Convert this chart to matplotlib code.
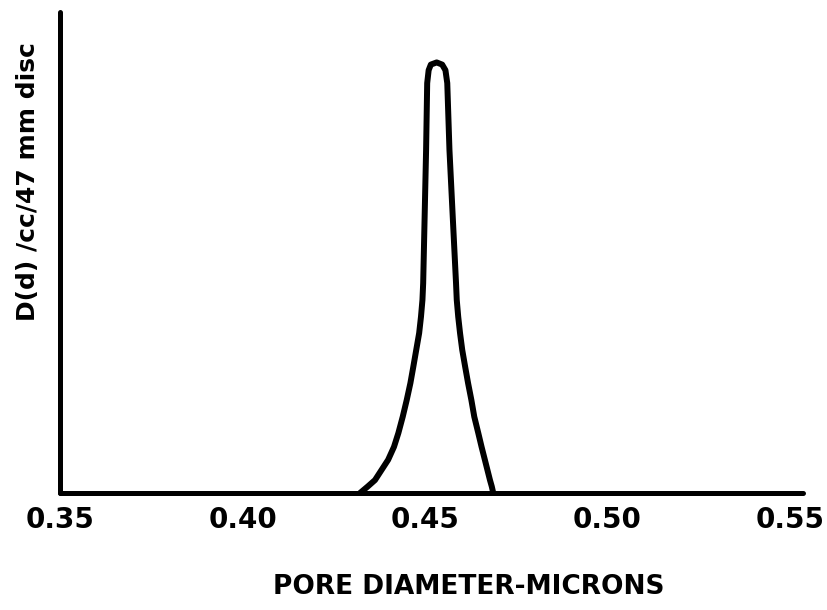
import matplotlib
matplotlib.use("Agg")
import matplotlib.pyplot as plt
import numpy as np

# pore diameter (microns) vs relative D(d)
diameter = [0.4322, 0.4343, 0.4363, 0.4399, 0.4415, 0.4427, 0.4439, 0.4450,
            0.4460, 0.4468, 0.4476, 0.4484, 0.4489, 0.4493, 0.4495, 0.4499,
            0.4503, 0.4506, 0.4510, 0.4516, 0.4532, 0.4547, 0.4556, 0.4561,
            0.4567, 0.4576, 0.4585, 0.4587, 0.4591, 0.4596, 0.4602, 0.4610,
            0.4618, 0.4627, 0.4635, 0.4646, 0.4655, 0.4664, 0.4678, 0.4683,
            0.4687]
density = [0.0, 0.015, 0.030, 0.077, 0.107, 0.139, 0.177, 0.216,
           0.255, 0.293, 0.332, 0.371, 0.409, 0.448, 0.487, 0.641,
           0.796, 0.951, 0.981, 0.994, 0.999, 0.994, 0.981, 0.951,
           0.796, 0.641, 0.487, 0.448, 0.409, 0.371, 0.332, 0.293,
           0.255, 0.216, 0.177, 0.139, 0.107, 0.077, 0.030, 0.015,
           0.0]

xticks = [0.35, 0.40, 0.45, 0.50, 0.55]
xtick_labels = ["0.35", "0.40", "0.45", "0.50", "0.55"]

fig = plt.figure(figsize=(8.27, 6.10), dpi=100)
ax = fig.add_axes([60 / 827, 117 / 610, 743 / 827, 481 / 610])

ax.plot(diameter, density, color="black", lw=4.3,
        solid_capstyle="round", solid_joinstyle="round")

ax.set_xlim(0.35, 0.35 + 743 / 3650)
ax.set_ylim(0, 481 / 431)

for side in ["top", "right"]:
    ax.spines[side].set_visible(False)
for side in ["left", "bottom"]:
    ax.spines[side].set_linewidth(3.6)
    ax.spines[side].set_capstyle("round")

ax.set_xticks(xticks)
ax.set_xticklabels(xtick_labels, fontsize=20, fontweight="bold")
ax.set_yticks([])
ax.tick_params(axis="x", length=0, pad=9)

fig.text(28 / 827, 1 - 182 / 610, "D(d) /cc/47 mm disc", rotation=90,
         ha="center", va="center", fontsize=18, fontweight="bold")
fig.text(469 / 827, 1 - 587 / 610, "PORE DIAMETER-MICRONS",
         ha="center", va="center", fontsize=19, fontweight="bold")

fig.savefig("out.png", dpi=100)
